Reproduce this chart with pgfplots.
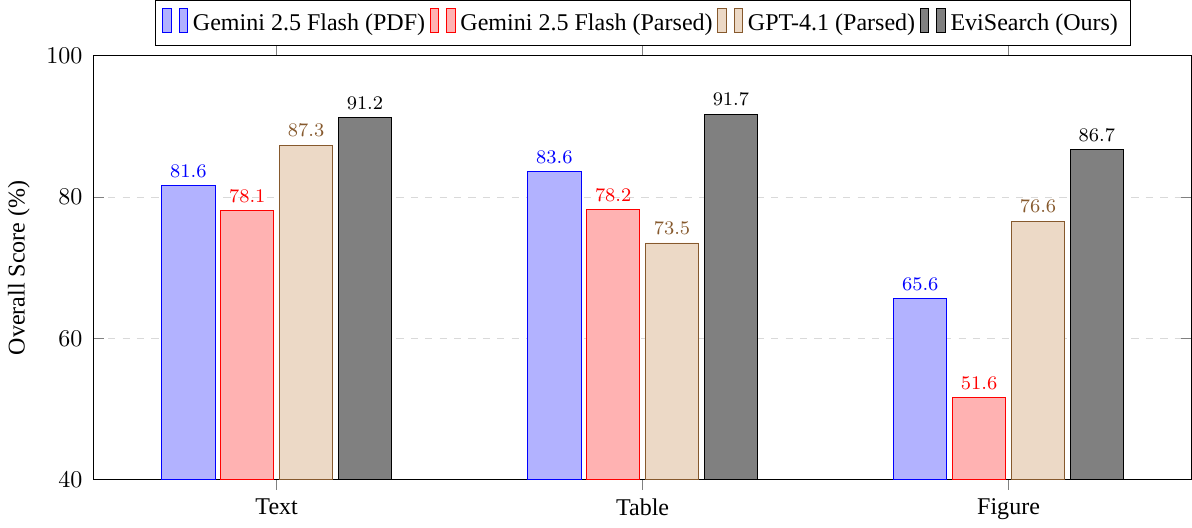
\documentclass[border=0pt]{standalone}
\usepackage{fontspec}
\setmainfont{Liberation Serif}
\usepackage{pgfplots}
\pgfplotsset{compat=1.18}
\colorlet{mybrown}{brown!70!black}
\begin{document}
\begin{tikzpicture}
\begin{axis}[
  scale only axis,
  width=457pt, height=176.5pt,
  ybar=2.3pt, bar width=22.2pt,
  ymin=40, ymax=100,
  ytick={40,60,80,100},
  yticklabel style={xshift=-1.2pt},
  xmin=-0.5, xmax=2.5,
  xtick={0,1,2},
  xticklabels={Text,Table,Figure},
  xtick align=outside,
  ymajorgrids,
  grid style={dashed, gray!30},
  ylabel={Overall Score (\%)},
  nodes near coords,
  every node near coord/.append style={font=\footnotesize},
  legend image code/.code={%
    \draw[#1] (0pt,-0.35em) rectangle (3.5pt,0.65em);
    \draw[#1] (6.8pt,-0.35em) rectangle (10.3pt,0.65em);
  },
  legend style={at={(0.5,1.022)}, anchor=south, legend columns=4, draw=black,
    inner sep=3pt},
]
\addplot[draw=blue, fill=blue!30, nodes near coords style={text=blue}] coordinates {(0,81.6) (1,83.6) (2,65.6)};
\addplot[draw=red, fill=red!30, nodes near coords style={text=red}] coordinates {(0,78.1) (1,78.2) (2,51.6)};
\addplot[draw=mybrown, fill=brown!30, nodes near coords style={text=mybrown}] coordinates {(0,87.3) (1,73.5) (2,76.6)};
\addplot[draw=black, fill=black!50, nodes near coords style={text=black}] coordinates {(0,91.2) (1,91.7) (2,86.7)};
\legend{Gemini 2.5 Flash (PDF), Gemini 2.5 Flash (Parsed), GPT-4.1 (Parsed), EviSearch (Ours)}
\end{axis}
\end{tikzpicture}
\end{document}
